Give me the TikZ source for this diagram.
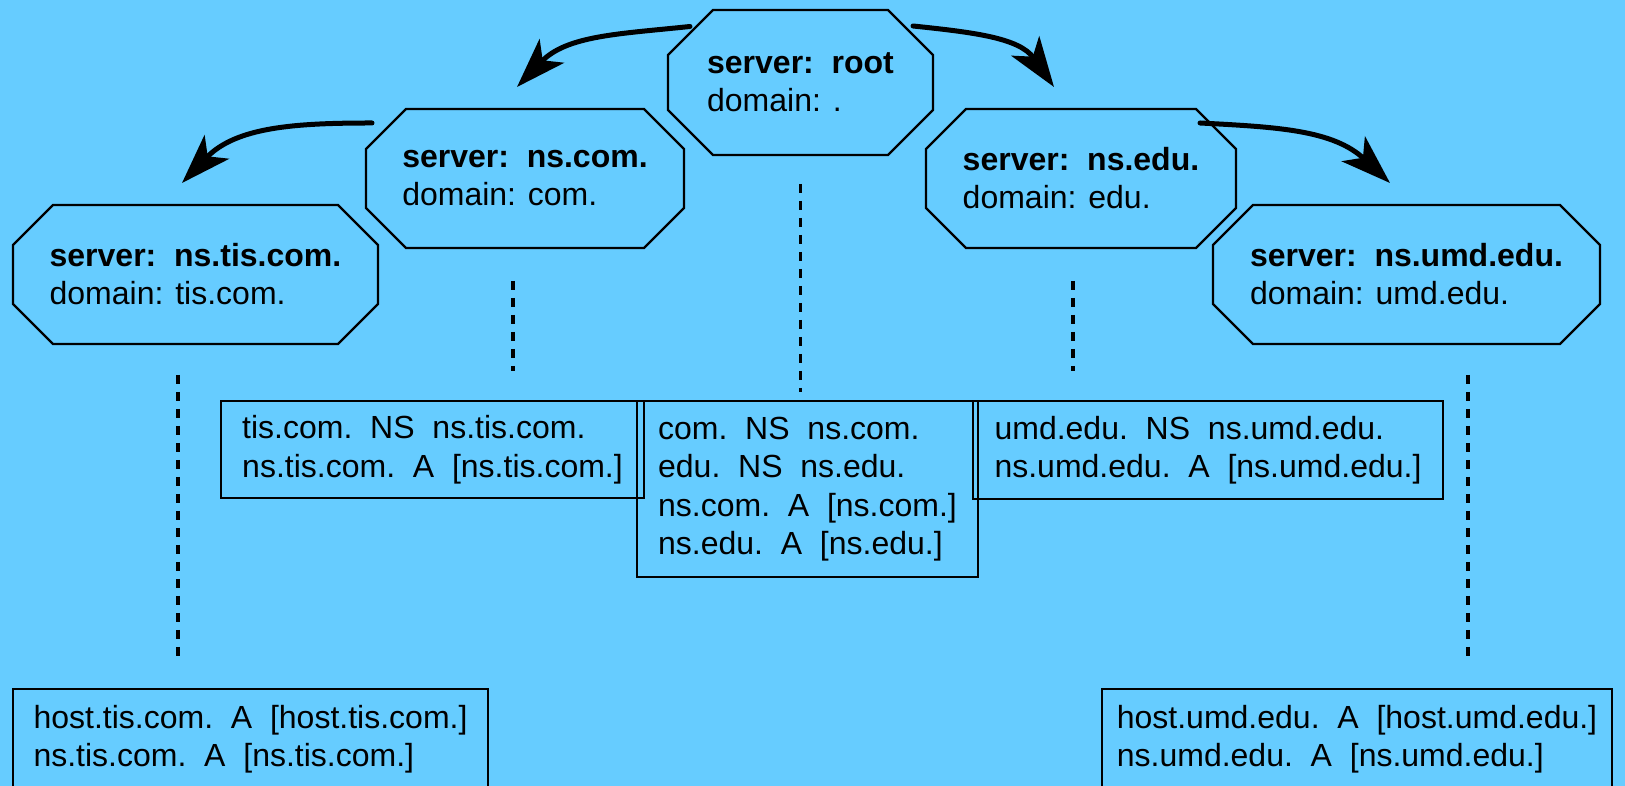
\documentclass[tikz,border=0pt]{standalone}
\usepackage{fontspec}
\setmainfont{Liberation Sans}
\usetikzlibrary{arrows.meta}
\definecolor{sky}{RGB}{102,204,255}

\begin{document}
\begin{tikzpicture}[x=1pt, y=1pt, >={Stealth[length=50pt,width=34pt,inset=13pt]},
    font=\fontsize{32pt}{38pt}\selectfont,
    server/.style={align=left, inner sep=0pt, outer sep=0pt, minimum height=139pt},
    zone/.style={draw, line width=2.2pt, align=left, inner sep=0pt, outer sep=0pt,
        font=\fontsize{32pt}{38.5pt}\selectfont},
    link/.style={line width=3.4pt, dash pattern=on 9.5pt off 7.5pt},
    hop/.style={->, line width=5pt, line cap=round}]
    \fill[sky] (0,0) rectangle (1625,786);
    \useasboundingbox (0,0) rectangle (1625,786);

    \node[server, minimum width=265pt, minimum height=145pt] (root) at (800.5,703.5) {\textbf{server:~~root}\\domain: .};
    \node[server, minimum width=318pt] (com) at (525,607.5) {\textbf{server:~~ns.com.}\\domain: com.};
    \node[server, minimum width=310pt] (edu) at (1081,607.5) {\textbf{server:~~ns.edu.}\\domain: edu.};
    \node[server, minimum width=365pt] (tisns) at (195.5,511.5) {\textbf{server:~~ns.tis.com.}\\domain: tis.com.};
    \node[server, minimum width=387pt] (umdns) at (1406.5,511.5) {\textbf{server:~~ns.umd.edu.}\\domain: umd.edu.};

    % octagon outlines round the name servers
    \foreach \n/\c in {root/45pt, com/40pt, edu/40pt, tisns/40pt, umdns/40pt}
        \draw[line width=2.2pt] ([xshift=\c]\n.north west) -- ([xshift=-\c]\n.north east)
            -- ([yshift=-\c]\n.north east) -- ([yshift=\c]\n.south east)
            -- ([xshift=-\c]\n.south east) -- ([xshift=\c]\n.south west)
            -- ([yshift=\c]\n.south west) -- ([yshift=-\c]\n.north west) -- cycle;

    \node[zone, minimum width=423pt, minimum height=97pt] (tiszone) at (432.5,336.5) {tis.com.~~NS~~ns.tis.com.\\ns.tis.com.~~A~~[ns.tis.com.]};
    \node[zone, minimum width=341pt, minimum height=176pt] (rootzone) at (807.5,297) {com.~~NS~~ns.com.\\edu.~~NS~~ns.edu.\\ns.com.~~A~~[ns.com.]\\ns.edu.~~A~~[ns.edu.]};
    \node[zone, minimum width=470pt, minimum height=98pt] (umdzone) at (1208,336) {umd.edu.~~NS~~ns.umd.edu.\\ns.umd.edu.~~A~~[ns.umd.edu.]};
    \node[zone, minimum width=475pt, minimum height=100pt] (tishost) at (250.5,47) {host.tis.com.~~A~~[host.tis.com.]\\ns.tis.com.~~A~~[ns.tis.com.]};
    \node[zone, minimum width=510pt, minimum height=100pt] (umdhost) at (1357,47) {host.umd.edu.~~A~~[host.umd.edu.]\\ns.umd.edu.~~A~~[ns.umd.edu.]};

    \coordinate (comfoot) at ([xshift=-12pt]com.south);
    \coordinate (edufoot) at ([xshift=-8pt]edu.south);
    \coordinate (tisfoot) at ([xshift=-17.5pt]tisns.south);
    \coordinate (umdfoot) at ([xshift=61.5pt]umdns.south);
    \draw[link, shorten <=29pt, shorten >=9pt] (root.south) -- (root.south |- rootzone.north);
    \draw[link, shorten <=33pt, shorten >=30pt] (comfoot) -- (comfoot |- tiszone.north);
    \draw[link, shorten <=33pt, shorten >=30pt] (edufoot) -- (edufoot |- umdzone.north);
    \draw[link, shorten <=31pt, shorten >=26pt] (tisfoot) -- (tisfoot |- tishost.north);
    \draw[link, shorten <=31pt, shorten >=26pt] (umdfoot) -- (umdfoot |- umdhost.north);

    \draw[hop] ([shift={(22,56)}]root.west) to[out=186, in=46] ([shift={(-8,22)}]com.north);
    \draw[hop] ([shift={(-20,56.5)}]root.east) to[out=-6, in=125] ([shift={(-27,22)}]edu.north);
    \draw[hop] ([shift={(6,55.5)}]com.west) to[out=180, in=46] ([shift={(-13.5,22)}]tisns.north);
    \draw[hop] ([shift={(-36,55.5)}]edu.east) to[out=-3, in=137] ([shift={(-16.5,22)}]umdns.north);
\end{tikzpicture}
\end{document}
